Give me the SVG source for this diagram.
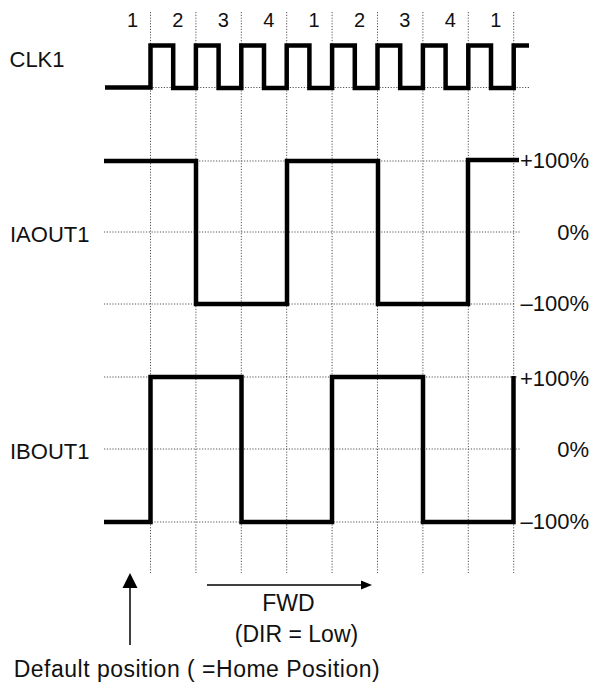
<svg xmlns="http://www.w3.org/2000/svg" width="594" height="686" viewBox="0 0 594 686">
  <style>
    .grid { stroke: #555; stroke-width: 1; stroke-dasharray: 1.2 1.6; fill: none; }
    .wave { stroke: #000; stroke-width: 4.5; fill: none; stroke-linejoin: miter; stroke-linecap: butt; }
    .lbl { font-family: "Liberation Sans", Arial, sans-serif; font-size: 22px; fill: #111; }
    .dig { font-family: "Liberation Sans", Arial, sans-serif; font-size: 20px; fill: #111; text-anchor: middle; }
    .pct { font-family: "Liberation Sans", Arial, sans-serif; font-size: 22px; fill: #111; text-anchor: end; }
    .bot { font-family: "Liberation Sans", Arial, sans-serif; font-size: 23px; fill: #111; text-anchor: middle; }
    .conn { stroke: #000; stroke-width: 1.5; fill: none; }
  </style>
  <rect width="594" height="686" fill="#fff"/>

  <g id="grid">
    <path class="grid" d="M150.5,12V573 M195.9,12V573 M241.3,12V573 M286.7,12V573 M332.1,12V573 M377.5,12V573 M422.9,12V573 M468.3,12V573 M513.7,12V573"/>
    <path class="grid" d="M105,87.5H530 M104,161H518 M104,232H521 M104,304H515 M104,377H518 M104,449H521 M104,522H515"/>
  </g>

  <g id="phase-labels">
    <text class="dig" x="132.5" y="27">1</text>
    <text class="dig" x="177.9" y="27">2</text>
    <text class="dig" x="223.3" y="27">3</text>
    <text class="dig" x="268.7" y="27">4</text>
    <text class="dig" x="314.1" y="27">1</text>
    <text class="dig" x="359.5" y="27">2</text>
    <text class="dig" x="404.9" y="27">3</text>
    <text class="dig" x="450.3" y="27">4</text>
    <text class="dig" x="495.7" y="27">1</text>
  </g>

  <g id="clk1">
    <text class="lbl" x="9.5" y="66.5">CLK1</text>
    <path class="wave" d="M105,87.5H150.5V45.5H173.2V88H195.9V45.5H218.6V88H241.3V45.5H264V88H286.7V45.5H309.4V88H332.1V45.5H354.8V88H377.5V45.5H400.2V88H422.9V45.5H445.6V88H468.3V45.5H491V88H513.7V45.5H529"/>
  </g>

  <g id="iaout1">
    <text class="lbl" x="10" y="241.5">IAOUT1</text>
    <path class="wave" d="M104,161H196V304H287V161H378V304H468V160H519"/>
    <text class="pct" x="589" y="168">+100%</text>
    <text class="pct" x="589" y="239.5">0%</text>
    <text class="pct" x="589" y="311">–100%</text>
  </g>

  <g id="ibout1">
    <text class="lbl" x="10" y="458.5">IBOUT1</text>
    <path class="wave" d="M104,522H150.5V377H241.5V522H332V377H423V522H513.5V376"/>
    <text class="pct" x="589" y="386">+100%</text>
    <text class="pct" x="589" y="457">0%</text>
    <text class="pct" x="589" y="528.5">–100%</text>
  </g>

  <g id="connectors">
    <line class="conn" x1="130" y1="645" x2="130" y2="586"/>
    <polygon points="130,573 122.5,588 137.5,588" fill="#000"/>
    <line class="conn" x1="207" y1="585" x2="362" y2="585"/>
    <polygon points="372,585 361,580.5 361,589.5" fill="#000"/>
  </g>

  <g id="fwd-label">
    <text class="bot" x="288.5" y="611">FWD</text>
    <text class="bot" x="296.5" y="642">(DIR = Low)</text>
  </g>

  <g id="home-label">
    <text class="bot" x="196.7" y="677" textLength="366">Default position ( =Home Position)</text>
  </g>
</svg>
